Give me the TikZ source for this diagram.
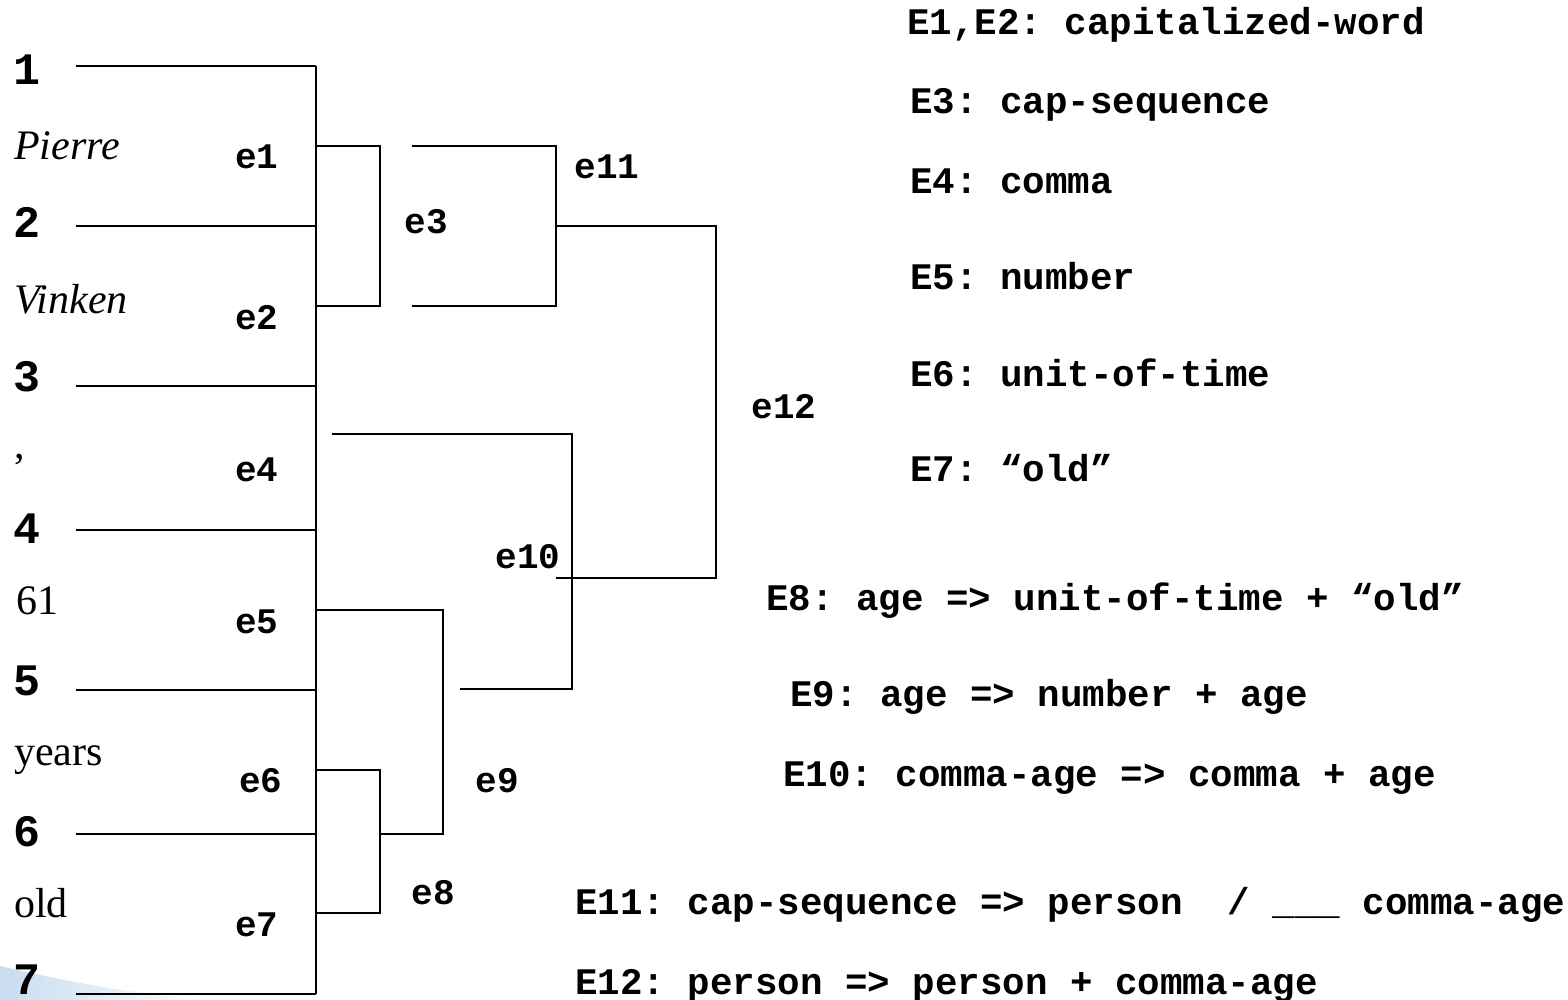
\documentclass[tikz,border=0pt]{standalone}
\usepackage{fontspec}
\setmainfont{Liberation Serif}
\newfontfamily\courfont{Liberation Mono}
\frenchspacing
\begin{document}
\begin{tikzpicture}[x=1pt,y=-1pt,
  ln/.style={line width=2pt, line join=miter},
  num/.style={anchor=base west, inner sep=0, font=\courfont\bfseries\fontsize{45}{45}\selectfont},
  word/.style={anchor=base west, inner sep=0, font=\fontsize{42}{42}\selectfont},
  elab/.style={anchor=center, inner sep=0, font=\courfont\bfseries\fontsize{36}{36}\selectfont},
  rulet/.style={anchor=base west, inner sep=0, font=\courfont\bfseries\frenchspacing\fontsize{37.5}{38}\selectfont},
]
\useasboundingbox (0,0) rectangle (1568,1000);
% decorative swoosh
\shade[left color={rgb,255:red,200;green,220;blue,240}, right color=white]
  (0,966) .. controls (60,980) and (130,994) .. (210,1000) -- (0,1000) -- cycle;

% leaf numbers
\node[num] (n1) at (13,85) {1};
\node[num] (n2) at (13,238) {2};
\node[num] (n3) at (13,391) {3};
\node[num] (n4) at (13,543) {4};
\node[num] (n5) at (13,695) {5};
\node[num] (n6) at (13,846) {6};
\node[num] (n7) at (13,994) {7};

% words
\node[word] (w1) at (14,160) {\itshape Pierre};
\node[word] (w2) at (14,313) {\itshape Vinken};
\node[word] (w3) at (14,458) {,};
\node[word] (w4) at (16,614) {61};
\node[word] (w5) at (14,765) {years};
\node[word] (w6) at (14,917) {old};

% edge labels
\node[elab] (e1) at (257,157) {e1};
\node[elab] (e2) at (257,318) {e2};
\node[elab] (e3) at (426,222) {e3};
\node[elab] (e4) at (257,470) {e4};
\node[elab] (e5) at (257,622) {e5};
\node[elab] (e6) at (261,781) {e6};
\node[elab] (e7) at (257,925) {e7};
\node[elab] (e8) at (433,893) {e8};
\node[elab] (e9) at (497,781) {e9};
\node[elab] (e10) at (528,557) {e10};
\node[elab] (e11) at (607,167) {e11};
\node[elab] (e12) at (784,407) {e12};

% coordinates
\foreach \i/\y in {1/66,2/226,3/386,4/530,5/690,6/834,7/994} {
  \coordinate (L\i) at (76,\y);
  \coordinate (T\i) at (316,\y);
}
% trunk and leaves
\draw[ln] (T1) -- (T7);
\foreach \i in {1,...,7} { \draw[ln] (L\i) -- (T\i); }

% e1/e2 bracket
\coordinate (a1) at (316,146); \coordinate (a2) at (380,146);
\coordinate (a3) at (380,306); \coordinate (a4) at (316,306);
\draw[ln] (a1) -- (a2) -- (a3) -- (a4);
% e3 bracket
\coordinate (b1) at (412,146); \coordinate (b2) at (556,146);
\coordinate (b3) at (556,306); \coordinate (b4) at (412,306);
\draw[ln] (b1) -- (b2) -- (b3) -- (b4);
% e11 / e12 bracket
\coordinate (c1) at (556,226); \coordinate (c2) at (716,226);
\coordinate (c3) at (716,578); \coordinate (c4) at (556,578);
\draw[ln] (c1) -- (c2) -- (c3) -- (c4);
% e10 bracket
\coordinate (d1) at (332,434); \coordinate (d2) at (572,434);
\coordinate (d3) at (572,689); \coordinate (d4) at (460,689);
\draw[ln] (d1) -- (d2) -- (d3) -- (d4);
% e5 / e9 bracket
\coordinate (f1) at (316,610); \coordinate (f2) at (443,610);
\coordinate (f3) at (443,834); \coordinate (f4) at (380,834);
\draw[ln] (f1) -- (f2) -- (f3) -- (f4);
% e6/e7 bracket
\coordinate (g1) at (316,770); \coordinate (g2) at (380,770);
\coordinate (g3) at (380,913); \coordinate (g4) at (316,913);
\draw[ln] (g1) -- (g2) -- (g3) -- (g4);

% rules
\node[rulet] (r1) at (907,35) {E1,E2: capitalized-word};
\node[rulet] (r3) at (910,114) {E3: cap-sequence};
\node[rulet] (r4) at (910,194) {E4: comma};
\node[rulet] (r5) at (910,290) {E5: number};
\node[rulet] (r6) at (910,386) {E6: unit-of-time};
\node[rulet] (r7) at (910,481) {E7: “old”};
\node[rulet] (r8) at (766,610) {E8: age => unit-of-time + “old”};
\node[rulet] (r9) at (790,706) {E9: age => number + age};
\node[rulet] (r10) at (783,786) {E10: comma-age => comma + age};
\node[rulet] (r11) at (575,914) {E11: cap-sequence => person\ \ / \_\_\_ comma-age};
\node[rulet] (r12) at (575,994) {E12: person => person + comma-age};
\end{tikzpicture}
\end{document}
